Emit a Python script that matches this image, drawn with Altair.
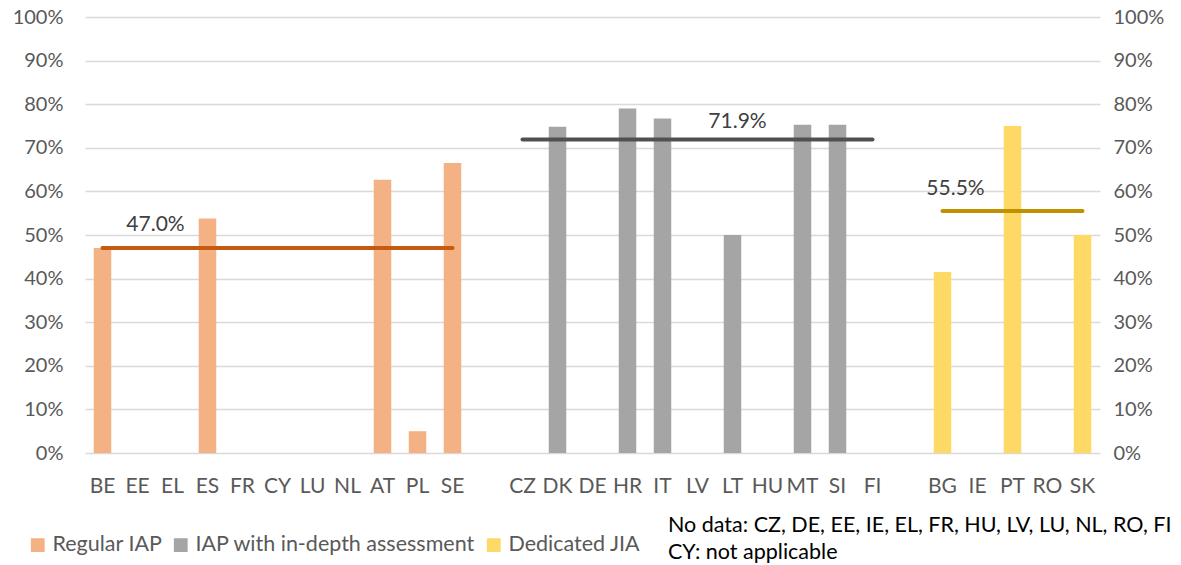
import altair as alt
import numpy as np
import pandas as pd

# Share of answers per Member State, grouped by type of assessment
cats_regular = ["BE", "EE", "EL", "ES", "FR", "CY", "LU", "NL", "AT", "PL", "SE"]
vals_regular = [47.0, None, None, 53.8, None, None, None, None, 62.7, 5.0, 66.5]

cats_indepth = ["CZ", "DK", "DE", "HR", "IT", "LV", "LT", "HU", "MT", "SI", "FI"]
vals_indepth = [None, 74.8, None, 79.0, 76.7, None, 50.0, None, 75.3, 75.3, None]

cats_jia = ["BG", "IE", "PT", "RO", "SK"]
vals_jia = [41.5, None, 75.0, None, 50.0]

groups = ["Regular IAP", "IAP with in-depth assessment", "Dedicated JIA"]
bar_colors = ["#F4B183", "#A5A5A5", "#FFD966"]
avg_colors = ["#C55A11", "#505050", "#BF9000"]
# category near which each average label sits
label_cats = ["EE", "LT", "BG"]
label_dx = [18, 5, 13]
label_dy = [-23, -18, -22]

note_lines = ["No data: CZ, DE, EE, IE, EL, FR, HU, LV, LU, NL, RO, FI",
              "CY: not applicable"]

# x domain with blank spacer slots between the groups
domain = cats_regular + [" "] + cats_indepth + ["  "] + cats_jia

rows = []
avgs = []
for g, cats, vals in zip(groups, [cats_regular, cats_indepth, cats_jia],
                         [vals_regular, vals_indepth, vals_jia]):
    for c, v in zip(cats, vals):
        if v is not None:
            rows.append({"country": c, "value": v / 100, "group": g})
    arr = np.array([v for v in vals if v is not None], dtype=float)
    avgs.append({"group": g, "start": cats[0], "end": cats[-1],
                 "avg": round(float(arr.mean()), 1) / 100})
bars_df = pd.DataFrame(rows)
avg_df = pd.DataFrame(avgs)
avg_df["label"] = [f"{a * 100:.1f}%" for a in avg_df["avg"]]
avg_df["label_cat"] = label_cats

FONT = "Lato"
W, H = 1015, 436
yscale = alt.Scale(domain=[0, 1], nice=False)
xscale = alt.Scale(domain=domain, paddingInner=0.5, paddingOuter=0.25)

y_left = alt.Axis(values=[i / 10 for i in range(11)], format=".0%", grid=True,
                  gridColor="#D9D9D9", gridWidth=1.3, domain=False, ticks=False,
                  labelFontSize=20, labelColor="#595959", labelFont=FONT,
                  labelPadding=22, title=None)
y_right = alt.Axis(values=[i / 10 for i in range(11)], format=".0%", grid=False,
                   domain=False, ticks=False, orient="right",
                   labelFontSize=20, labelColor="#595959", labelFont=FONT,
                   labelPadding=13, title=None)
x_axis = alt.Axis(domain=False, ticks=False, labelAngle=0, labelFontSize=21,
                  labelColor="#595959", labelFont=FONT, labelPadding=22,
                  title=None, grid=False)

bars = alt.Chart(bars_df).mark_bar().encode(
    x=alt.X("country:N", scale=xscale, axis=x_axis),
    y=alt.Y("value:Q", scale=yscale, axis=y_left),
    color=alt.Color("group:N",
                    scale=alt.Scale(domain=groups, range=bar_colors),
                    legend=alt.Legend(orient="none", direction="horizontal",
                                      legendX=-58, legendY=517, title=None,
                                      symbolType="square", symbolSize=190,
                                      symbolStrokeWidth=0, labelFontSize=21.5,
                                      labelFont=FONT, labelColor="#595959",
                                      labelOffset=4, columnPadding=7,
                                      labelLimit=500)),
)

rules = alt.Chart(avg_df).mark_rule(strokeWidth=4, strokeCap="round").encode(
    x=alt.X("start:N", scale=xscale, bandPosition=0.5, axis=x_axis),
    x2=alt.X2("end:N", bandPosition=0.5),
    y=alt.Y("avg:Q", scale=yscale, axis=None),
    color=alt.Color("group:N", scale=alt.Scale(domain=groups, range=avg_colors),
                    legend=None),
)

labels = []
for i in range(3):
    labels.append(
        alt.Chart(avg_df.iloc[[i]]).mark_text(
            fontSize=21, font=FONT, color="#404040", dx=label_dx[i], dy=label_dy[i]
        ).encode(
            x=alt.X("label_cat:N", scale=xscale, axis=x_axis),
            y=alt.Y("avg:Q", scale=yscale, axis=None),
            text="label:N",
        )
    )

right_axis = alt.Chart(bars_df).mark_bar(opacity=0).encode(
    x=alt.X("country:N", scale=xscale, axis=x_axis),
    y=alt.Y("value:Q", scale=yscale, axis=y_right),
)

note = alt.Chart(pd.DataFrame({"t": [0]})).mark_text(
    align="left", baseline="middle", fontSize=21.5, font=FONT, color="#000000",
    lineHeight=27,
).encode(
    x=alt.value(583), y=alt.value(509), text=alt.value(note_lines),
)

chart = alt.layer(bars, rules, *labels, note, right_axis).resolve_scale(
    color="independent", y="independent"
).properties(
    width=W, height=H,
    background="white",
    autosize=alt.AutoSizeParams(type="none"),
    padding={"left": 85, "top": 17, "right": 1181 - 85 - W, "bottom": 565 - 17 - H},
).configure_view(stroke=None)

chart.save("out.html", embed_options={"renderer": "svg", "actions": False})
